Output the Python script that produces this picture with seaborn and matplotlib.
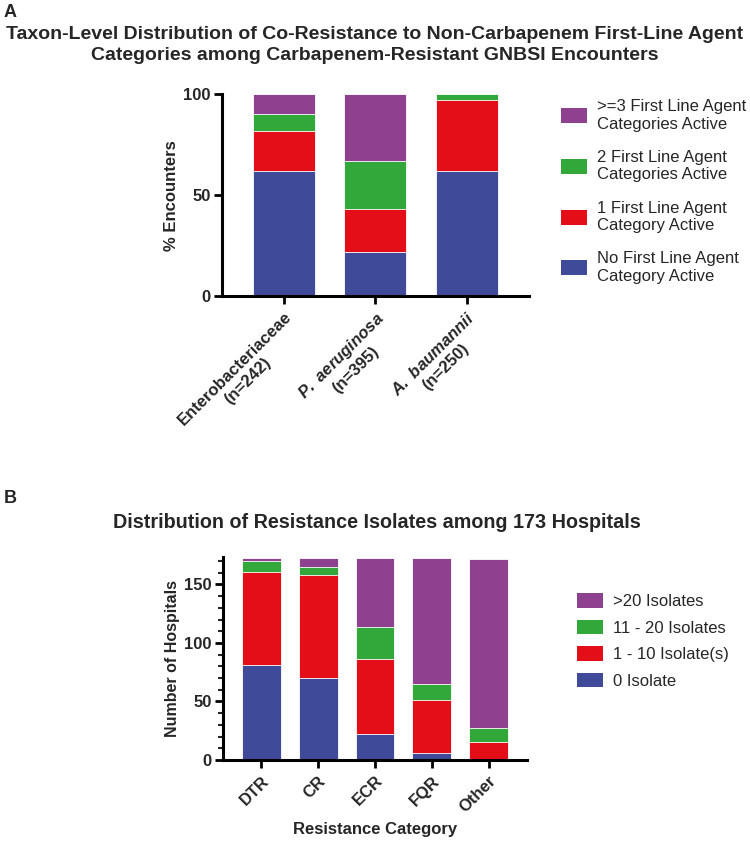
import pandas as pd
import matplotlib.pyplot as plt
import seaborn as sns
from matplotlib.patches import Patch

# panel A data (% encounters, stacked bottom -> top)
taxa = ['Enterobacteriaceae', 'P. aeruginosa', 'A. baumannii']
taxa_labels = ['Enterobacteriaceae\n(n=242)',
               r'$\mathbfit{P.\ aeruginosa}$' + '\n(n=395)',
               r'$\mathbfit{A.\ baumannii}$' + '\n(n=250)']
none_active = [62, 22, 62]
one_active = [20, 21, 35]
two_active = [8, 24, 3]
three_plus = [10, 33, 0]
layers_a = ['No First Line Agent\nCategory Active',
            '1 First Line Agent\nCategory Active',
            '2 First Line Agent\nCategories Active',
            '>=3 First Line Agent\nCategories Active']

# panel B data (number of hospitals)
res_cats = ['DTR', 'CR', 'ECR', 'FQR', 'Other']
iso_0 = [81, 70, 22, 6, 0]
iso_1_10 = [80, 88, 64, 45, 15]
iso_11_20 = [9, 7, 28, 14, 12]
iso_20plus = [3, 8, 59, 108, 145]
layers_b = ['0 Isolate', '1 - 10 Isolate(s)', '11 - 20 Isolates', '>20 Isolates']

colors = ['#3F4A98', '#E30E18', '#33A83A', '#8E418E']

sns.set_style('white')
plt.rcParams['font.family'] = ['Liberation Sans', 'DejaVu Sans']
plt.rcParams['mathtext.fontset'] = 'custom'
plt.rcParams['mathtext.rm'] = 'Liberation Sans:bold'
plt.rcParams['mathtext.bfit'] = 'Liberation Sans:italic:bold'
plt.rcParams['mathtext.it'] = 'Liberation Sans:italic:bold'


def stacked(ax, cats, series):
    # draw cumulative totals from the top layer down so each covers the one above
    cum = [0] * len(cats)
    cums = []
    for s in series:
        cum = [c + v for c, v in zip(cum, s)]
        cums.append(list(cum))
    for i in range(len(series) - 1, -1, -1):
        df = pd.DataFrame({'cat': cats, 'val': cums[i]})
        sns.barplot(data=df, x='cat', y='val', color=colors[i], saturation=1,
                    width=0.68, edgecolor='white', linewidth=0.6, ax=ax)


def style_axes(ax):
    sns.despine(ax=ax)
    for sp in ['left', 'bottom']:
        ax.spines[sp].set_linewidth(2.2)
        ax.spines[sp].set_color('black')
    ax.tick_params(axis='both', which='major', length=6, width=2, direction='out',
                   labelsize=12, color='black', bottom=True, left=True)
    ax.tick_params(axis='y', pad=2)
    for t in ax.get_yticklabels():
        t.set_fontweight('bold')


fig = plt.figure(figsize=(7.5, 8.42), dpi=100)

# ---- panel A
axA = fig.add_axes([0.296, 0.6485, 0.409, 0.2395])
stacked(axA, taxa, [none_active, one_active, two_active, three_plus])
axA.set_ylim(0, 100)
axA.set_xlim(-0.68, 2.68)
axA.set_yticks([0, 50, 100])
style_axes(axA)
axA.set_xticks(range(3))
axA.set_xticklabels(taxa_labels, rotation=45, ha='right', rotation_mode='anchor',
                    fontsize=12, fontweight='bold', multialignment='center')
axA.set_xlabel('')
axA.set_ylabel('% Encounters', fontsize=12, fontweight='bold', labelpad=3)

handlesA = [Patch(facecolor=colors[i], edgecolor='none', label=layers_a[i]) for i in range(3, -1, -1)]
fig.legend(handles=handlesA, loc='upper left', bbox_to_anchor=(0.728, 0.9),
           frameon=False, fontsize=12, handlelength=1.55, handleheight=1.0,
           labelspacing=1.1, handletextpad=0.6)

fig.text(0.005, 0.995, 'A', fontsize=13, fontweight='bold', va='top')
fig.text(0.5, 0.947, 'Taxon-Level Distribution of Co-Resistance to Non-Carbapenem First-Line Agent\n'
         'Categories among Carbapenem-Resistant GNBSI Encounters',
         fontsize=14, fontweight='bold', ha='center', va='center', linespacing=1.3)

# ---- panel B
axB = fig.add_axes([0.297, 0.0974, 0.406, 0.2411])
stacked(axB, res_cats, [iso_0, iso_1_10, iso_11_20, iso_20plus])
axB.set_ylim(0, 173.5)
axB.set_xlim(-0.68, 4.68)
axB.set_yticks([0, 50, 100, 150])
axB.set_yticks(range(0, 171, 10), minor=True)
style_axes(axB)
axB.tick_params(axis='y', which='minor', length=3.5, width=1.5, left=True)
axB.set_xticks(range(5))
axB.set_xticklabels(res_cats, rotation=45, ha='right', rotation_mode='anchor',
                    fontsize=12, fontweight='bold')
axB.set_xlabel('Resistance Category', fontsize=12, fontweight='bold', labelpad=5)
axB.set_ylabel('Number of Hospitals', fontsize=11.5, fontweight='bold', labelpad=3)

handlesB = [Patch(facecolor=colors[i], edgecolor='none', label=layers_b[i]) for i in range(3, -1, -1)]
fig.legend(handles=handlesB, loc='upper left', bbox_to_anchor=(0.749, 0.3135),
           frameon=False, fontsize=12, handlelength=1.55, handleheight=1.0,
           labelspacing=0.62, handletextpad=0.6)

fig.text(0.005, 0.408, 'B', fontsize=13, fontweight='bold', va='center')
fig.text(0.503, 0.379, 'Distribution of Resistance Isolates among 173 Hospitals',
         fontsize=14.2, fontweight='bold', ha='center', va='center')

fig.savefig('out.png', dpi=100)
